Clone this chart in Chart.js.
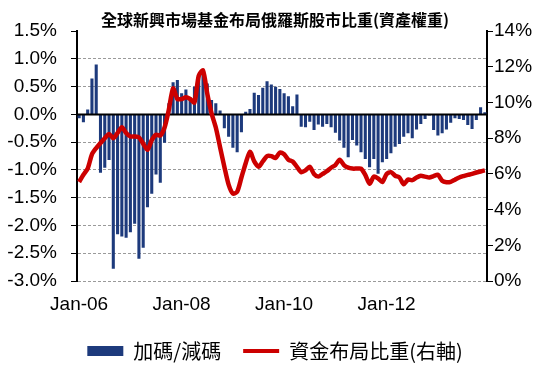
<!DOCTYPE html>
<html>
<head>
<meta charset="utf-8">
<script src="https://cdn.jsdelivr.net/npm/chart.js@4"></script>
<style>
  html, body { margin: 0; padding: 0; background: #fff; }
  #wrap { width: 550px; height: 366px; }
</style>
</head>
<body>
<div id="wrap"><canvas id="chart" width="550" height="366"></canvas></div>
<script>
// monthly, Jan-06 .. Dec-13
const monthNames = ['Jan','Feb','Mar','Apr','May','Jun','Jul','Aug','Sep','Oct','Nov','Dec'];
const years = ['06','07','08','09','10','11','12','13'];
const tickLabels = ['Jan-06', 'Jan-08', 'Jan-10', 'Jan-12'];

const months = [];
years.forEach(y => monthNames.forEach(m => months.push(m + '-' + y)));

// 加碼/減碼 (left axis, %)
const overUnder = [
  -0.07, -0.14, 0.09, 0.65, 0.9, -1.05, -0.96, -0.82, -2.78, -2.16, -2.2, -2.22,
  -2.12, -1.97, -2.6, -2.4, -1.67, -1.43, -1.08, -1.23, -0.51, 0.2, 0.58, 0.62,
  0.38, 0.45, 0.3, 0.5, 0.7, 0.78, 0.56, 0.26, 0.2, 0.07, -0.25, -0.4,
  -0.6, -0.68, -0.32, 0.05, 0.1, 0.39, 0.35, 0.48, 0.6, 0.54, 0.5, 0.46,
  0.38, 0.33, 0.15, 0.36, -0.22, -0.23, -0.13, -0.28, -0.18, -0.22, -0.17, -0.23,
  -0.33, -0.47, -0.6, -0.77, -0.46, -0.56, -0.68, -0.8, -0.95, -0.8, -1.07, -0.86,
  -0.8, -0.7, -0.58, -0.53, -0.4, -0.34, -0.43, -0.27, -0.17, -0.08, -0.02, -0.28,
  -0.38, -0.34, -0.27, -0.15, -0.07, -0.08, -0.1, -0.19, -0.26, -0.1, 0.13, 0.04
];

// 資金布局比重 (right axis, %)
const weight = [
  5.55, 5.95, 6.3, 7.1, 7.45, 7.73, 8.0, 8.24, 8.0, 8.3, 8.62, 8.3,
  8.1, 8.1, 8.05, 7.7, 7.35, 7.9, 8.2, 8.15, 8.6, 9.6, 10.8, 10.2,
  10.2, 10.3, 10.2, 10.0, 11.5, 11.8, 10.5, 9.4, 8.6, 7.5, 6.4, 5.4,
  4.9, 5.0, 5.8, 6.6, 7.25, 6.7, 6.4, 6.7, 7.0, 7.0, 6.9, 7.2,
  7.1, 6.8, 6.7, 6.4, 6.1, 6.2, 6.4, 6.0, 5.85, 6.0, 6.15, 6.35,
  6.5, 6.8, 6.5, 6.35, 6.3, 6.3, 6.3, 5.95, 5.45, 5.85, 5.75, 5.55,
  6.0, 6.1, 5.9, 5.8, 5.42, 5.68, 5.65, 5.8, 5.9, 5.85, 5.8, 5.88,
  5.95, 5.62, 5.54, 5.56, 5.68, 5.8, 5.88, 5.95, 6.0, 6.08, 6.14, 6.2
];

const navy = '#1d3a7c';
const red = '#cc0000';
const tickFont = { family: 'Liberation Sans, Arial', size: 19 };
const cjk = 'Noto Sans CJK TC';

// black horizontal axis line at 0%, drawn over the bars
const zeroLine = {
  id: 'zeroLine',
  afterDatasetDraw(chart, args) {
    if (args.index !== 1) return;
    const y = chart.scales.y.getPixelForValue(0);
    const ctx = chart.ctx;
    ctx.save();
    ctx.strokeStyle = '#000';
    ctx.lineWidth = 2;
    ctx.beginPath();
    ctx.moveTo(chart.chartArea.left, y);
    ctx.lineTo(chart.chartArea.right, y);
    ctx.stroke();
    ctx.restore();
  }
};

new Chart(document.getElementById('chart'), {
  type: 'bar',
  data: {
    labels: months,
    datasets: [{
      type: 'line',
      label: '資金布局比重(右軸)',
      data: weight,
      yAxisID: 'y1',
      borderColor: red,
      backgroundColor: red,
      borderWidth: 4.5,
      pointRadius: 0,
      tension: 0.25,
      order: 0
    }, {
      label: '加碼/減碼',
      data: overUnder,
      yAxisID: 'y',
      backgroundColor: navy,
      barPercentage: 0.72,
      categoryPercentage: 1,
      order: 1
    }]
  },
  options: {
    responsive: false,
    animation: false,
    layout: { padding: { left: 0, right: 0, top: 0, bottom: -5 } },
    plugins: {
      title: {
        display: true,
        text: '全球新興市場基金布局俄羅斯股市比重(資產權重)',
        color: '#000',
        font: { family: cjk, size: 16, weight: 'bold' },
        padding: { top: 10, bottom: 2 }
      },
      legend: {
        position: 'bottom',
        labels: {
          color: '#000',
          font: { family: cjk, size: 20 },
          usePointStyle: true,
          pointStyleWidth: 36,
          boxHeight: 10,
          padding: 22,
          generateLabels(chart) {
            return [{
              text: '加碼/減碼', fillStyle: navy, strokeStyle: navy,
              lineWidth: 0, pointStyle: 'rect', datasetIndex: 1
            }, {
              text: '資金布局比重(右軸)', fillStyle: red, strokeStyle: red,
              lineWidth: 4, pointStyle: 'line', datasetIndex: 0
            }];
          }
        }
      },
      tooltip: { enabled: false }
    },
    scales: {
      x: {
        grid: { display: false, drawTicks: false },
        border: { display: false },
        ticks: {
          autoSkip: false,
          maxRotation: 0,
          padding: 12,
          color: '#000',
          font: tickFont,
          callback(v, i) {
            const lab = months[i];
            return tickLabels.includes(lab) ? lab : '';
          }
        },
        afterFit(scale) { scale.height = 38; }
      },
      y: {
        position: 'left',
        min: -3, max: 1.5,
        ticks: {
          stepSize: 0.5,
          color: '#000',
          font: tickFont,
          padding: 14,
          callback: v => v.toFixed(1) + '%'
        },
        grid: {
          color: ctx => (ctx.tick && ctx.tick.value === 1.5) ? 'rgba(0,0,0,0)' : '#9a9a9a',
          lineWidth: 1,
          tickColor: '#000',
          tickLength: 6
        },
        border: { display: true, color: '#000', width: 2, dash: [3, 2] },
        afterFit(scale) { scale.width = 77; }
      },
      y1: {
        position: 'right',
        min: 0, max: 14,
        ticks: {
          stepSize: 2,
          color: '#000',
          font: tickFont,
          padding: 1,
          callback: v => v + '%'
        },
        grid: {
          drawOnChartArea: false,
          tickColor: '#000',
          tickLength: 6
        },
        border: { display: true, color: '#000', width: 2 },
        afterFit(scale) { scale.width = 63; }
      }
    }
  },
  plugins: [zeroLine]
});
</script>
</body>
</html>
